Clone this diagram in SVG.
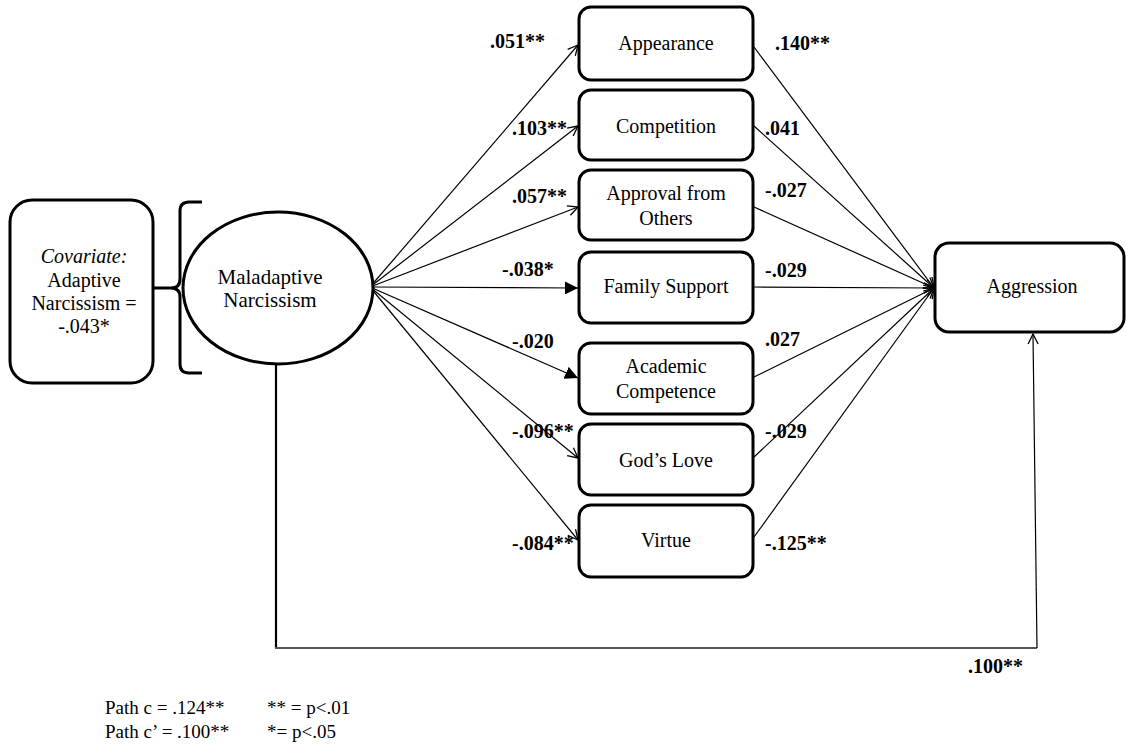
<svg xmlns="http://www.w3.org/2000/svg" width="1126" height="748" viewBox="0 0 1126 748">
<style>
.box{fill:#fff;stroke:#000;stroke-width:3}
.t{font-family:"Liberation Serif","Times New Roman",serif;font-size:20px;fill:#000;text-anchor:middle}
.c{font-family:"Liberation Serif","Times New Roman",serif;font-size:20px;font-weight:bold;fill:#000}
.f{font-family:"Liberation Serif","Times New Roman",serif;font-size:19px;fill:#000}
.ln{stroke:#000;stroke-width:1.2;fill:none}
</style>
<defs>
<marker id="open" viewBox="0 0 12 12" refX="11" refY="6" markerWidth="12" markerHeight="12" orient="auto" markerUnits="userSpaceOnUse"><path d="M1,1 L11,6 L1,11" fill="none" stroke="#000" stroke-width="1.3"/></marker>
<marker id="tri" viewBox="0 0 12 12" refX="12" refY="6" markerWidth="13" markerHeight="13" orient="auto" markerUnits="userSpaceOnUse"><path d="M0,0 L12,6 L0,12 Z" fill="#000"/></marker>
</defs>
<rect width="1126" height="748" fill="#fff"/>

<g id="connectors">
<line class="ln" x1="370" y1="287" x2="578" y2="45" marker-end="url(#open)"/>
<line class="ln" x1="370" y1="287" x2="578" y2="126" marker-end="url(#open)"/>
<line class="ln" x1="370" y1="287" x2="578" y2="207" marker-end="url(#open)"/>
<line class="ln" x1="370" y1="287" x2="578" y2="288" marker-end="url(#tri)"/>
<line class="ln" x1="370" y1="287" x2="578" y2="378" marker-end="url(#tri)"/>
<line class="ln" x1="370" y1="287" x2="578" y2="458" marker-end="url(#open)"/>
<line class="ln" x1="370" y1="287" x2="578" y2="540" marker-end="url(#open)"/>
<line class="ln" x1="754" y1="47" x2="934" y2="288" marker-end="url(#open)"/>
<line class="ln" x1="754" y1="126" x2="934" y2="288" marker-end="url(#open)"/>
<line class="ln" x1="754" y1="207" x2="934" y2="288" marker-end="url(#open)"/>
<line class="ln" x1="754" y1="287" x2="934" y2="288" marker-end="url(#open)"/>
<line class="ln" x1="754" y1="377" x2="934" y2="288" marker-end="url(#open)"/>
<line class="ln" x1="754" y1="457" x2="934" y2="288" marker-end="url(#open)"/>
<line class="ln" x1="754" y1="537" x2="934" y2="288" marker-end="url(#open)"/>
<line x1="276" y1="363" x2="276" y2="648" stroke="#000" stroke-width="2.2"/>
<line x1="275" y1="648" x2="1037" y2="648" stroke="#555" stroke-width="2"/>
<line class="ln" x1="1037" y1="648" x2="1033" y2="334" marker-end="url(#open)"/>
<path d="M202,202 H189 Q180,202 180,211 V279 Q180,288 171,288 H154 M171,288 Q180,288 180,297 V364 Q180,373 189,373 H202" fill="none" stroke="#000" stroke-width="3"/>
</g>

<g id="covariate">
<rect class="box" x="10" y="200" width="143" height="183" rx="22"/>
<text class="t" x="84" y="263" font-style="italic">Covariate:</text>
<text class="t" x="84" y="287">Adaptive</text>
<text class="t" x="84" y="310">Narcissism =</text>
<text class="t" x="84" y="333">-.043*</text>
</g>

<g id="maladaptive">
<ellipse cx="278" cy="288" rx="95" ry="76" fill="#fff" stroke="#000" stroke-width="3"/>
<text class="t" x="270" y="284" style="font-size:21px">Maladaptive</text>
<text class="t" x="270" y="307" style="font-size:21px">Narcissism</text>
</g>

<g id="appearance">
<rect class="box" x="579" y="7" width="174" height="73" rx="12"/>
<text class="t" x="666" y="50">Appearance</text>
</g>
<g id="competition">
<rect class="box" x="579" y="90" width="174" height="70" rx="12"/>
<text class="t" x="666" y="133">Competition</text>
</g>
<g id="approval">
<rect class="box" x="579" y="170" width="174" height="70" rx="12"/>
<text class="t" x="666" y="200">Approval from</text>
<text class="t" x="666" y="225">Others</text>
</g>
<g id="family">
<rect class="box" x="579" y="252" width="174" height="71" rx="12"/>
<text class="t" x="666" y="293">Family Support</text>
</g>
<g id="academic">
<rect class="box" x="579" y="343" width="174" height="71" rx="12"/>
<text class="t" x="666" y="373">Academic</text>
<text class="t" x="666" y="398">Competence</text>
</g>
<g id="godslove">
<rect class="box" x="579" y="424" width="174" height="71" rx="12"/>
<text class="t" x="666" y="467">God’s Love</text>
</g>
<g id="virtue">
<rect class="box" x="579" y="505" width="174" height="72" rx="12"/>
<text class="t" x="666" y="547">Virtue</text>
</g>
<g id="aggression">
<rect class="box" x="935" y="243" width="189" height="89" rx="14"/>
<text class="t" x="1032" y="293">Aggression</text>
</g>

<g id="labels">
<text class="c" x="490" y="48">.051**</text>
<text class="c" x="512" y="135">.103**</text>
<text class="c" x="512" y="203">.057**</text>
<text class="c" x="502" y="276">-.038*</text>
<text class="c" x="512" y="348">-.020</text>
<text class="c" x="512" y="438">-.096**</text>
<text class="c" x="512" y="550">-.084**</text>
<text class="c" x="775" y="50">.140**</text>
<text class="c" x="765" y="135">.041</text>
<text class="c" x="765" y="197">-.027</text>
<text class="c" x="765" y="277">-.029</text>
<text class="c" x="765" y="346">.027</text>
<text class="c" x="765" y="438">-.029</text>
<text class="c" x="765" y="550">-.125**</text>
<text class="c" x="968" y="673">.100**</text>
</g>

<g id="footer">
<text class="f" x="105" y="714">Path c = .124**</text>
<text class="f" x="105" y="738">Path c’ = .100**</text>
<text class="f" x="267" y="714">** = p&lt;.01</text>
<text class="f" x="267" y="738">*= p&lt;.05</text>
</g>
</svg>
